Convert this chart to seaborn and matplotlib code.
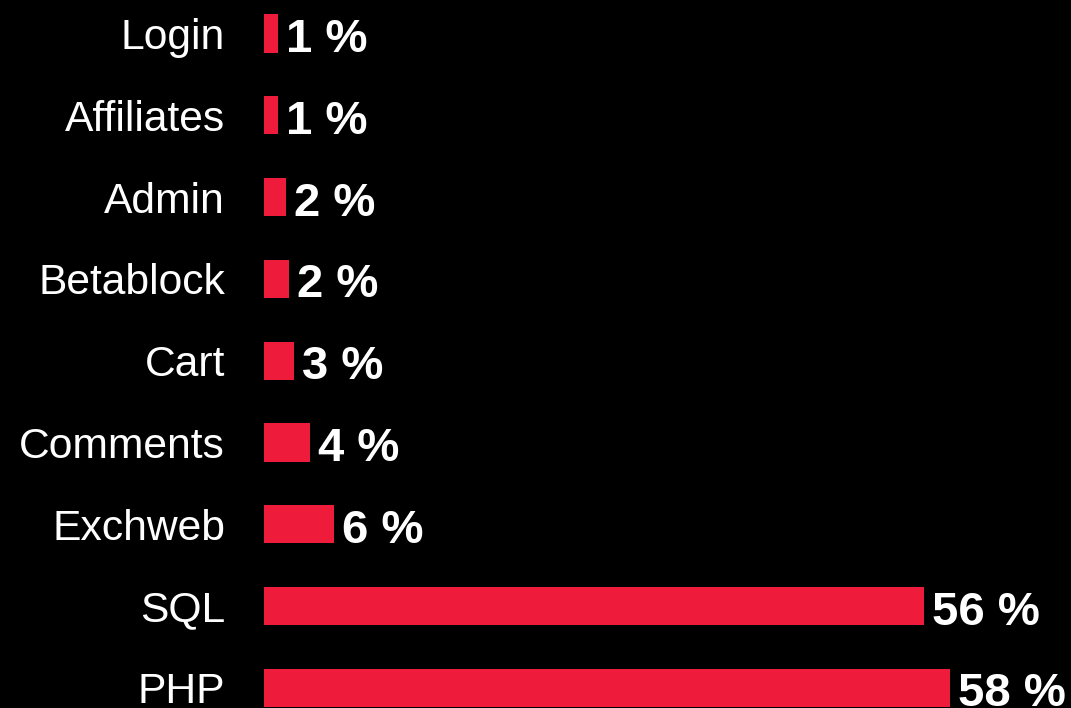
import matplotlib
matplotlib.use("Agg")
import matplotlib.pyplot as plt
import seaborn as sns
import pandas as pd

categories = ["Login", "Affiliates", "Admin", "Betablock", "Cart",
              "Comments", "Exchweb", "SQL", "PHP"]
values = [1.16, 1.16, 1.84, 2.1, 2.54, 3.9, 5.93, 55.9, 58.1]
labels = [f"{round(v)} %" for v in values]

df = pd.DataFrame({"category": categories, "value": values})

sns.set_theme(style="white")
plt.rcParams["font.family"] = ["Liberation Sans", "DejaVu Sans"]

fig = plt.figure(figsize=(10.71, 7.08), dpi=100, facecolor="black")
ax = fig.add_axes([264 / 1071, 0, 1 - 264 / 1071, 1])
ax.set_facecolor("black")

sns.barplot(data=df, x="value", y="category", order=categories,
            color="#EE1C3A", saturation=1, width=0.465, linewidth=0,
            edgecolor="none", ax=ax)

px_per_unit = 11.8
ax.set_xlim(0, 807 / px_per_unit)
row = 81.8
ax.set_ylim(8 + (708 - 687.9) / row, -33.5 / row)

for i, (v, lab) in enumerate(zip(values, labels)):
    ax.annotate(lab, xy=(v, i), xytext=(6, -13.3), textcoords="offset points",
                ha="left", va="baseline", color="white", fontsize=34,
                fontweight="bold")

ax.set_xlabel("")
ax.set_ylabel("")
ax.set_xticks([])
ax.tick_params(axis="y", length=0, pad=28, labelsize=30.7, labelcolor="white")
for s in ax.spines.values():
    s.set_visible(False)

fig.savefig("out.png", dpi=100, facecolor="black")
